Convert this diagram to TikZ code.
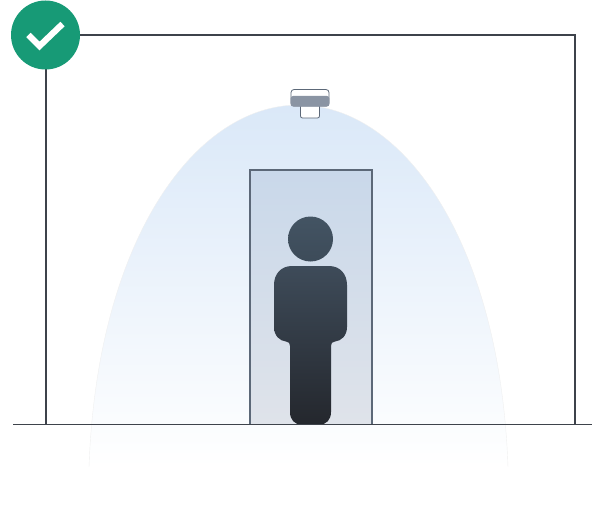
\documentclass[tikz,border=0pt]{standalone}
\definecolor{wallcol}{HTML}{3E434B}
\definecolor{doorcol}{HTML}{5C6878}
\definecolor{conecol}{HTML}{DAE8F8}
\definecolor{doortop}{HTML}{C9D8EA}
\definecolor{doorbot}{HTML}{DFE3EA}
\definecolor{headtop}{HTML}{435463}
\definecolor{headbot}{HTML}{3D4B59}
\definecolor{bodytop}{HTML}{3E4B59}
\definecolor{bodybot}{HTML}{24272D}
\definecolor{bandcol}{HTML}{8A94A3}
\definecolor{badgecol}{HTML}{179A76}
\tikzset{
  wall/.style={draw=wallcol, line width=1.4pt},
  sensorpart/.style={draw=doorcol, fill=white, line width=0.8pt},
}
\begin{document}
\begin{tikzpicture}[x=1pt, y=-1pt]
  \useasboundingbox (0,0) rectangle (592,511);
  \def\conepath{(89,467) .. controls (97,240) and (195,105) .. (298.5,105)
    .. controls (402,105) and (500,240) .. (508,467)}

  % coverage cone
  \shade[top color=conecol, bottom color=white] \conepath -- cycle;
  \draw[black!6, line width=0.4pt] \conepath;

  % room
  \draw[wall] (46,424.5) -- (46,35) -- (575,35) -- (575,424.5);

  % door
  \draw[draw=doorcol, line width=1.4pt, top color=doortop, bottom color=doorbot]
    (250,424.5) rectangle (372,170);

  % person
  \shade[top color=headtop, bottom color=headbot] (310.5,239) circle (22.5);
  \shade[top color=bodytop, bottom color=bodybot]
    (292,266) -- (329,266)
    .. controls (340,266) and (347,274) .. (347,285)
    -- (347,327) .. controls (347,336) and (341,341) .. (335,341.5)
    .. controls (332,342) and (331,343) .. (331,346)
    -- (331,412) .. controls (331,420) and (326,424.5) .. (320,424.5)
    -- (301,424.5) .. controls (295,424.5) and (290,420) .. (290,412)
    -- (290,346) .. controls (290,343) and (289,342) .. (286,341.5)
    .. controls (280,341) and (274,336) .. (274,327)
    -- (274,285) .. controls (274,274) and (281,266) .. (292,266) -- cycle;

  % floor
  \draw[wall] (13,424.5) -- (592,424.5);

  % sensor
  \draw[sensorpart, rounded corners=2pt] (300.5,104) rectangle (319.5,118);
  \draw[sensorpart, rounded corners=3pt] (291,89.5) rectangle (329,106);
  \fill[bandcol, rounded corners=2.5pt] (290.6,96) rectangle (329.4,106.5);

  % check badge
  \fill[badgecol] (45.5,35) circle (34.5);
  \draw[white, line width=6.2pt] (28.5,35) -- (39.5,46) -- (62.5,24);
\end{tikzpicture}
\end{document}
